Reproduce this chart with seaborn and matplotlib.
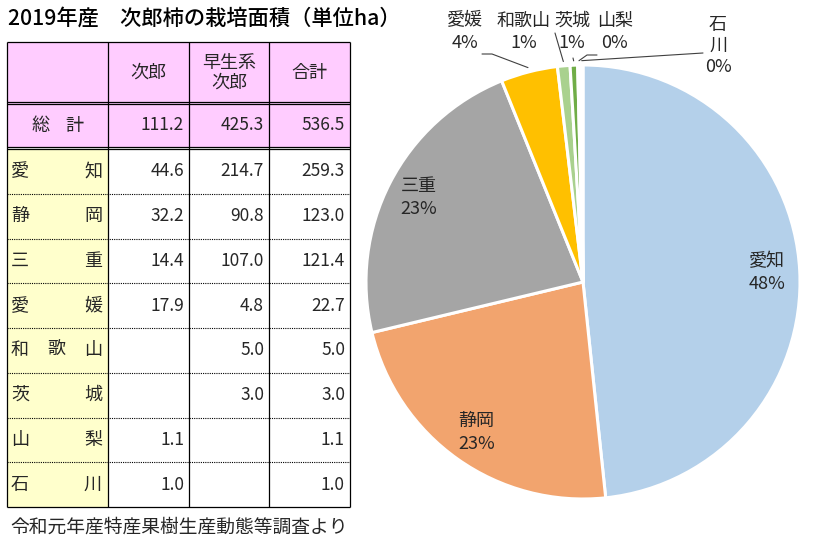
import numpy as np
import matplotlib
matplotlib.use("Agg")
import matplotlib.pyplot as plt
import seaborn as sns
from matplotlib.patches import Rectangle

# ---------------- data ----------------
prefectures = ['愛知', '静岡', '三重', '愛媛', '和歌山', '茨城', '山梨', '石川']
jiro = [44.6, 32.2, 14.4, 17.9, None, None, 1.1, 1.0]
wase_jiro = [214.7, 90.8, 107.0, 4.8, 5.0, 3.0, None, None]
total = [259.3, 123.0, 121.4, 22.7, 5.0, 3.0, 1.1, 1.0]
grand_total = [111.2, 425.3, 536.5]
column_labels = ['次郎', '早生系\n次郎', '合計']
title = '2019年産　次郎柿の栽培面積（単位ha）'
source = '令和元年産特産果樹生産動態等調査より'
pie_colors = ['#B4D0EA', '#F2A46E', '#A5A5A5', '#FFC000', '#A9D18E', '#70AD47', '#DCE9F5', '#F5F5F5']

# ---------------- style ----------------
sns.set_theme(style='white')
plt.rcParams['font.family'] = ['Noto Sans CJK JP', 'DejaVu Sans']

W, H = 816, 549
fig = plt.figure(figsize=(W / 100, H / 100), dpi=100)
fig.patch.set_facecolor('white')

# ---------------- table (pixel coordinates) ----------------
ax = fig.add_axes([0, 0, 1, 1])
ax.set_xlim(0, W)
ax.set_ylim(H, 0)
ax.axis('off')

X = [7, 108, 189, 269, 350]
HDR = (42, 102)
TOT = (104, 147)
data_edges = np.linspace(149, 507, len(prefectures) + 1)
PINK = '#FFCCFF'
YEL = '#FFFFCC'
LW = 0.9

ax.text(8, 19, title, fontsize=15.3, ha='left', va='center', color='black', fontweight='medium')

# fills
ax.add_patch(Rectangle((X[0], HDR[0]), X[-1] - X[0], TOT[1] - HDR[0], facecolor=PINK, edgecolor='none'))
ax.add_patch(Rectangle((X[0], TOT[1]), X[-1] - X[0], 2, facecolor='white', edgecolor='none'))
ax.add_patch(Rectangle((X[0], data_edges[0]), X[1] - X[0], data_edges[-1] - data_edges[0],
                       facecolor=YEL, edgecolor='none'))

# horizontal lines
for y in [HDR[0], HDR[1], TOT[0], TOT[1], data_edges[0], data_edges[-1]]:
    ax.plot([X[0], X[-1]], [y, y], color='black', lw=LW, solid_capstyle='butt')
for y in data_edges[1:-1]:
    ax.plot([X[0], X[-1]], [y, y], color='black', lw=0.8, linestyle=(0, (1, 1)))
# vertical lines
for x in X:
    ax.plot([x, x], [HDR[0], data_edges[-1]], color='black', lw=LW, solid_capstyle='butt')

# header
for i, lab in enumerate(column_labels):
    ax.text((X[i + 1] + X[i + 2]) / 2, (HDR[0] + HDR[1]) / 2 + 1, lab, fontsize=13,
            ha='center', va='center', linespacing=1.15)

# grand total row
ty = (TOT[0] + TOT[1]) / 2
ax.text(41, ty, '総', fontsize=13, ha='center', va='center')
ax.text(74, ty, '計', fontsize=13, ha='center', va='center')
for i, v in enumerate(grand_total):
    ax.text(X[i + 2] - 5, ty, f'{v:.1f}', fontsize=12.5, ha='right', va='center')

# data rows
for r, name in enumerate(prefectures):
    cy = (data_edges[r] + data_edges[r + 1]) / 2
    centers = np.linspace(20, 93, len(name))
    for ch, cx in zip(name, centers):
        ax.text(cx, cy, ch, fontsize=13, ha='center', va='center')
    for c, col in enumerate([jiro, wase_jiro, total]):
        v = col[r]
        if v is not None:
            ax.text(X[c + 2] - 5, cy, f'{v:.1f}', fontsize=12.5, ha='right', va='center')

ax.text(10, 527, source, fontsize=13.5, ha='left', va='center')

# ---------------- pie ----------------
CX, CY, R = 583, 282, 217
pax = fig.add_axes([(CX - R) / W, (H - CY - R) / H, 2 * R / W, 2 * R / H])


def px2d(px, py):
    return (px - CX) / R, (CY - py) / R


wedges, _ = pax.pie(total, colors=pie_colors, startangle=90, counterclock=False,
                    radius=1.0, wedgeprops=dict(edgecolor='white', linewidth=2.2))
pax.set_xlim(-1, 1)
pax.set_ylim(-1, 1)
pax.axis('off')
pct = [round(v / sum(total) * 100) for v in total]
LBL = '#262626'
PFS = 13

# inside labels for the three largest slices
for i in range(3):
    w = wedges[i]
    ang = np.deg2rad((w.theta1 + w.theta2) / 2)
    x, y = 0.85 * np.cos(ang), 0.85 * np.sin(ang)
    pax.text(x, y, f'{prefectures[i]}\n{pct[i]}%', ha='center', va='center',
             fontsize=PFS, color=LBL, linespacing=1.35)

# outside labels with leader lines
outside = {
    3: dict(pos=(465, 32), line=[(482, 54), (492, 54)]),
    4: dict(pos=(524, 32), line=[(555, 33)]),
    5: dict(pos=(572, 32), line=[(573, 58)]),
    6: dict(pos=(615, 32), line=[(597, 55), (587, 55)]),
    7: dict(pos=(718, 46), line=[(703, 53)]),
}
for i, o in outside.items():
    name = prefectures[i]
    if i == 7:
        txt = '石\n川\n' + f'{pct[i]}%'
        ls = 1.2
    else:
        txt = f'{name}\n{pct[i]}%'
        ls = 1.35
    px, py = px2d(*o['pos'])
    pax.text(px, py, txt, ha='center', va='center', fontsize=PFS, color=LBL,
             linespacing=ls, clip_on=False)
    w = wedges[i]
    ang = np.deg2rad((w.theta1 + w.theta2) / 2)
    end = (1.02 * np.cos(ang), 1.02 * np.sin(ang))
    pts = [px2d(*p) for p in o['line']] + [end]
    xs, ys = zip(*pts)
    pax.plot(xs, ys, color='#404040', lw=0.8, clip_on=False)

fig.savefig('out.png', dpi=100)
